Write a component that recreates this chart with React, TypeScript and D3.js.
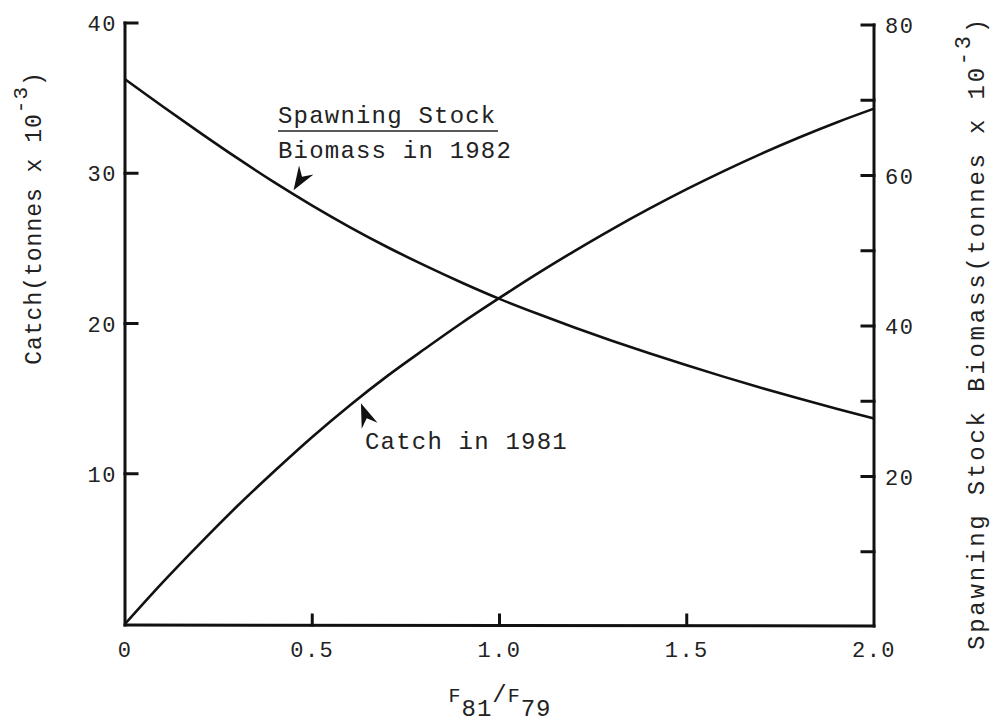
import React from "react";
import * as d3 from "d3";

// F81/F79 ratio
const ratio = [0, 0.1, 0.2, 0.3, 0.4, 0.5, 0.6, 0.7, 0.8, 0.9, 1.0, 1.1, 1.2, 1.3, 1.4, 1.5, 1.6, 1.7, 1.8, 1.9, 2.0];
// Catch in 1981 (tonnes x 10^-3), left axis
const catch1981 = [0, 2.75, 5.35, 7.85, 10.2, 12.45, 14.55, 16.5, 18.3, 20.05, 21.7, 23.3, 24.82, 26.27, 27.64, 28.94, 30.16, 31.31, 32.38, 33.38, 34.3];
// Spawning stock biomass in 1982 (tonnes x 10^-3), right axis
const ssb1982 = [72.8, 69.2, 65.7, 62.3, 59.05, 56.0, 53.15, 50.5, 48.05, 45.75, 43.6, 41.65, 39.8, 38.05, 36.37, 34.77, 33.24, 31.77, 30.36, 29.01, 27.7];

const xTicks = [0, 0.5, 1.0, 1.5, 2.0];
const xTickLabels = ["0", "0.5", "1.0", "1.5", "2.0"];
const leftTicks = [10, 20, 30, 40];
const rightTicks = [10, 20, 30, 40, 50, 60, 70, 80];
const rightLabels = [20, 40, 60, 80];

const W = 993;
const H = 722;
const FONT = "'Liberation Mono', 'DejaVu Sans Mono', monospace";

const arrowPath = (tx: number, ty: number, dx: number, dy: number) => {
  // notched arrowhead with its tip at (tx, ty), pointing along (dx, dy)
  const len = Math.hypot(dx, dy);
  const ux = dx / len, uy = dy / len;
  const px = -uy, py = ux;
  const L = 24, hw = 8.5, notch = 16;
  const bx = tx - ux * L, by = ty - uy * L;
  const nx = tx - ux * notch, ny = ty - uy * notch;
  return `M${tx},${ty} L${bx + px * hw},${by + py * hw} L${nx},${ny} L${bx - px * hw},${by - py * hw} Z`;
};

export default function App() {
  const x = d3.scaleLinear().domain([0, 2]).range([125, 874]);
  const yL = d3.scaleLinear().domain([0, 40]).range([624, 23]);
  const yR = d3.scaleLinear().domain([0, 80]).range([627, 25]);

  const catchLine = d3
    .line<number>()
    .x((d, i) => x(ratio[i]))
    .y((d) => yL(d))
    .curve(d3.curveCatmullRom.alpha(0.5));

  const ssbLine = d3
    .line<number>()
    .x((d, i) => x(ratio[i]))
    .y((d) => yR(d))
    .curve(d3.curveCatmullRom.alpha(0.5));

  const x0 = x(0), x1 = x(2);
  const yBase = 625;

  // arrow tips sit just off the curves
  const ssbTip = { x: x(0.45), y: yR(57.5) - 4 };
  const catchTip = { x: x(0.63), y: yL(15.15) + 7 };

  return (
    <svg
      width={W}
      height={H}
      style={{ position: "absolute", left: 0, top: 0, background: "#fff" }}
      fontFamily={FONT}
    >
      {/* axes */}
      <g stroke="#111" strokeWidth={3} fill="none" strokeLinecap="square">
        <line x1={x0} y1={yL(40)} x2={x0} y2={yBase} />
        <line x1={x1} y1={yR(80)} x2={x1} y2={yBase + 1} />
        <line x1={x0} y1={yBase} x2={x1} y2={yBase + 1} />
        {leftTicks.map((t) => (
          <line key={"l" + t} x1={x0} y1={yL(t)} x2={x0 + 12} y2={yL(t)} />
        ))}
        {rightTicks.map((t) => (
          <line key={"r" + t} x1={x1} y1={yR(t)} x2={x1 - 12} y2={yR(t)} />
        ))}
        {xTicks.slice(1, 4).map((t) => (
          <line key={"b" + t} x1={x(t)} y1={yBase} x2={x(t)} y2={yBase - 10} />
        ))}
      </g>

      {/* curves */}
      <path d={catchLine(catch1981) || ""} fill="none" stroke="#111" strokeWidth={2.6} />
      <path d={ssbLine(ssb1982) || ""} fill="none" stroke="#111" strokeWidth={2.6} />

      {/* tick labels */}
      <g fontSize={22} fill="#222" letterSpacing={1.5}>
        {leftTicks.map((t) => (
          <text key={"lt" + t} x={x0 - 8} y={yL(t) + 8} textAnchor="end">
            {t}
          </text>
        ))}
        {rightLabels.map((t) => (
          <text key={"rt" + t} x={x1 + 11} y={yR(t) + 8}>
            {t}
          </text>
        ))}
        {xTicks.map((t, i) => (
          <text key={"bt" + t} x={x(t)} y={657} textAnchor="middle">
            {xTickLabels[i]}
          </text>
        ))}
      </g>

      {/* x axis title F81/F79 */}
      <text x={500} y={702} textAnchor="middle" fill="#222" letterSpacing={1}>
        <tspan fontSize={20}>F</tspan>
        <tspan fontSize={24} dy={14}>81</tspan>
        <tspan fontSize={24} dy={-14}>/</tspan>
        <tspan fontSize={20}>F</tspan>
        <tspan fontSize={24} dy={14}>79</tspan>
      </text>

      {/* left axis title */}
      <text
        transform="translate(41, 218) rotate(-90)"
        textAnchor="middle"
        fontSize={23}
        fill="#222"
        letterSpacing={1}
      >
        <tspan>Catch(tonnes x 10</tspan>
        <tspan dy={-14} fontSize={21}>-3</tspan>
        <tspan dy={14}>)</tspan>
      </text>

      {/* right axis title */}
      <text
        transform="translate(984, 333) rotate(-90)"
        textAnchor="middle"
        fontSize={24}
        fill="#222"
        letterSpacing={2.8}
      >
        <tspan>Spawning Stock Biomass(tonnes x 10</tspan>
        <tspan dy={-14} fontSize={22}>-3</tspan>
        <tspan dy={14}>)</tspan>
      </text>

      {/* annotations */}
      <g fontSize={24} fill="#222" letterSpacing={1.2}>
        <text x={278} y={123}>Spawning Stock</text>
        <line x1={278} y1={131} x2={498} y2={131} stroke="#222" strokeWidth={1.5} />
        <text x={278} y={158}>Biomass in 1982</text>
        <text x={365} y={449}>Catch in 1981</text>
      </g>
      <path d={arrowPath(ssbTip.x, ssbTip.y, -10, 16)} fill="#111" />
      <path d={arrowPath(catchTip.x, catchTip.y, -7, -18)} fill="#111" />
    </svg>
  );
}
